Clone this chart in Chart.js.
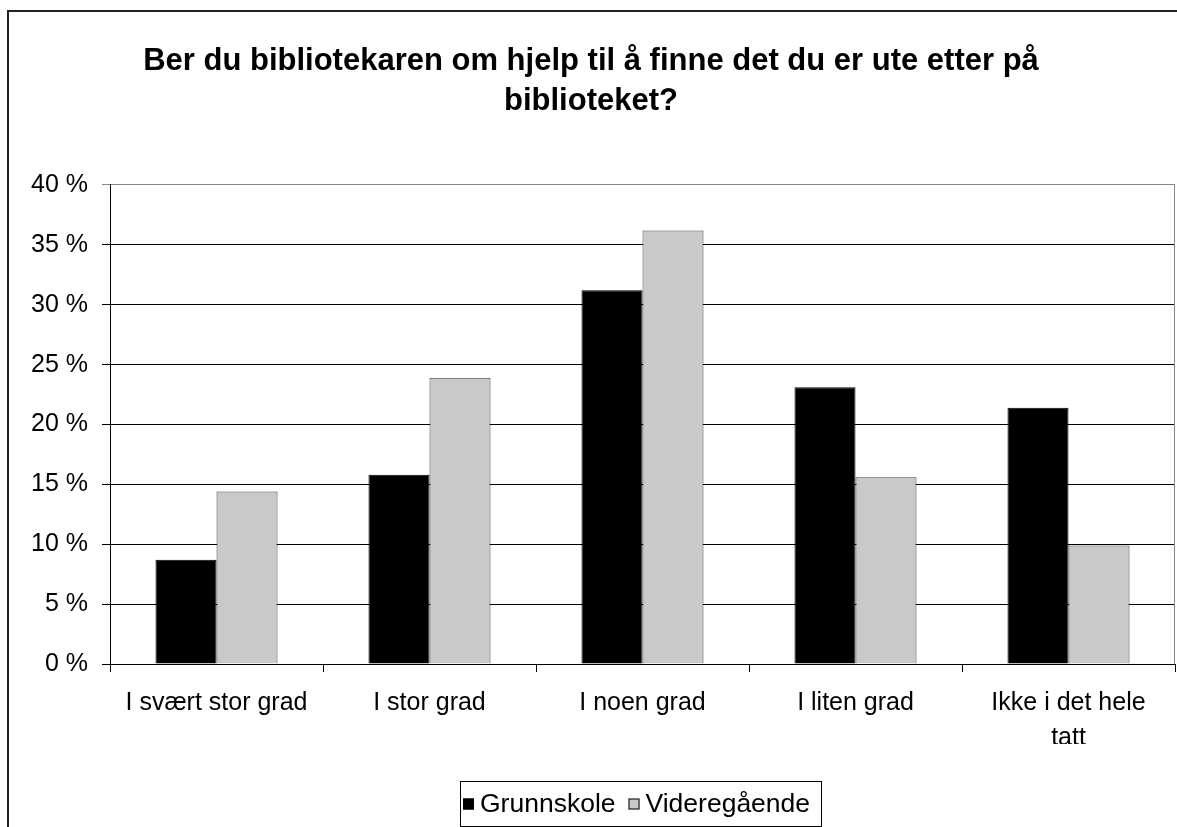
<!DOCTYPE html>
<html>
<head>
<meta charset="utf-8">
<script src="https://cdn.jsdelivr.net/npm/chart.js@4/dist/chart.umd.min.js"></script>
<style>
  html, body { margin: 0; padding: 0; background: #fff; overflow: hidden; }
  #wrap { width: 1177px; height: 827px; position: relative; }
</style>
</head>
<body>
<div id="wrap"><canvas id="bar-chart"></canvas></div>
<script>
const TITLE = ["Ber du bibliotekaren om hjelp til å finne det du er ute etter på", "biblioteket?"];
const CATEGORIES = ["I svært stor grad", "I stor grad", "I noen grad", "I liten grad", ["Ikke i det hele", "tatt"]];
const GRUNNSKOLE = [8.7, 15.8, 31.2, 23.1, 21.4];
const VIDEREGAENDE = [14.4, 23.9, 36.2, 15.6, 9.9];
const SERIES = ["Grunnskole", "Videregående"];

Chart.defaults.font.family = "'Liberation Sans', Arial, sans-serif";
Chart.defaults.color = "#000";

// outer chart frame (only top and left edges fall inside the picture)
const framePlugin = {
  id: "frame",
  beforeDraw(chart) {
    const ctx = chart.ctx;
    ctx.save();
    ctx.fillStyle = "#fff";
    ctx.fillRect(0, 0, chart.width, chart.height);
    ctx.strokeStyle = "#222";
    ctx.lineWidth = 2;
    ctx.beginPath();
    ctx.moveTo(8, chart.height);
    ctx.lineTo(8, 11);
    ctx.lineTo(chart.width, 11);
    ctx.stroke();
    ctx.restore();
  },
  afterDraw(chart) {
    // grey plot-area border on the right
    const a = chart.chartArea;
    const ctx = chart.ctx;
    ctx.save();
    ctx.strokeStyle = "#888";
    ctx.lineWidth = 1;
    ctx.beginPath();
    ctx.moveTo(Math.round(a.right) - 0.5, a.top);
    ctx.lineTo(Math.round(a.right) - 0.5, a.bottom);
    ctx.stroke();
    ctx.restore();
  },
};

// boxed legend like the spreadsheet one
const boxLegendPlugin = {
  id: "boxLegend",
  afterDraw(chart) {
    const ctx = chart.ctx;
    const left = 460, top = 781, w = 361, h = 45;
    ctx.save();
    ctx.strokeStyle = "#000";
    ctx.lineWidth = 1;
    ctx.strokeRect(left + 0.5, top + 0.5, w, h);
    ctx.font = "26.5px 'Liberation Sans', Arial, sans-serif";
    ctx.textBaseline = "middle";
    let x = left + 3;
    const cy = top + h / 2;
    chart.data.datasets.forEach((ds) => {
      ctx.fillStyle = ds.backgroundColor;
      ctx.fillRect(x, cy - 5, 11, 11);
      ctx.strokeStyle = "#000";
      ctx.strokeRect(x + 0.5, cy - 5 + 0.5, 10, 10);
      ctx.fillStyle = "#000";
      ctx.fillText(ds.label, x + 17, cy + 1);
      x += 17 + ctx.measureText(ds.label).width + 13;
    });
    ctx.restore();
  },
};

new Chart(document.getElementById("bar-chart"), {
  type: "bar",
  data: {
    labels: CATEGORIES,
    datasets: [
      {
        label: SERIES[0],
        data: GRUNNSKOLE,
        backgroundColor: "#000000",
        borderColor: "#000000",
        borderWidth: 1,
        categoryPercentage: 0.573,
        barPercentage: 1.0,
      },
      {
        label: SERIES[1],
        data: VIDEREGAENDE,
        backgroundColor: "#C9C9C9",
        borderColor: "#444444",
        borderWidth: 1,
        categoryPercentage: 0.573,
        barPercentage: 1.0,
      },
    ],
  },
  options: {
    responsive: true,
    maintainAspectRatio: false,
    animation: false,
    layout: {
      padding: { left: 7, right: 2, top: 0, bottom: 83 },
    },
    plugins: {
      legend: { display: false },
      tooltip: { enabled: false },
      title: {
        display: true,
        text: TITLE,
        color: "#000",
        font: { size: 31, weight: "bold", lineHeight: 1.29 },
        padding: { top: 41, bottom: 64 },
      },
    },
    scales: {
      x: {
        grid: {
          drawOnChartArea: false,
          drawTicks: true,
          tickLength: 8,
          color: "#000",
          offset: true,
        },
        border: { color: "#000", width: 1 },
        ticks: {
          color: "#000",
          font: { size: 25, lineHeight: 1.42 },
          maxRotation: 0,
          autoSkip: false,
          padding: 13,
        },
        afterFit(scale) {
          scale.height = 80;
        },
      },
      y: {
        min: 0,
        max: 40,
        grid: {
          color: (c) => (c.tick && c.tick.value === 40 ? "#888" : "#000"),
          lineWidth: 1,
          tickLength: 8,
        },
        border: { color: "#000", width: 1 },
        ticks: {
          stepSize: 5,
          color: "#000",
          font: { size: 25 },
          padding: 14,
          callback: (v) => v + " %",
        },
        afterFit(scale) {
          scale.width = 103;
        },
      },
    },
  },
  plugins: [framePlugin, boxLegendPlugin],
});
</script>
</body>
</html>
